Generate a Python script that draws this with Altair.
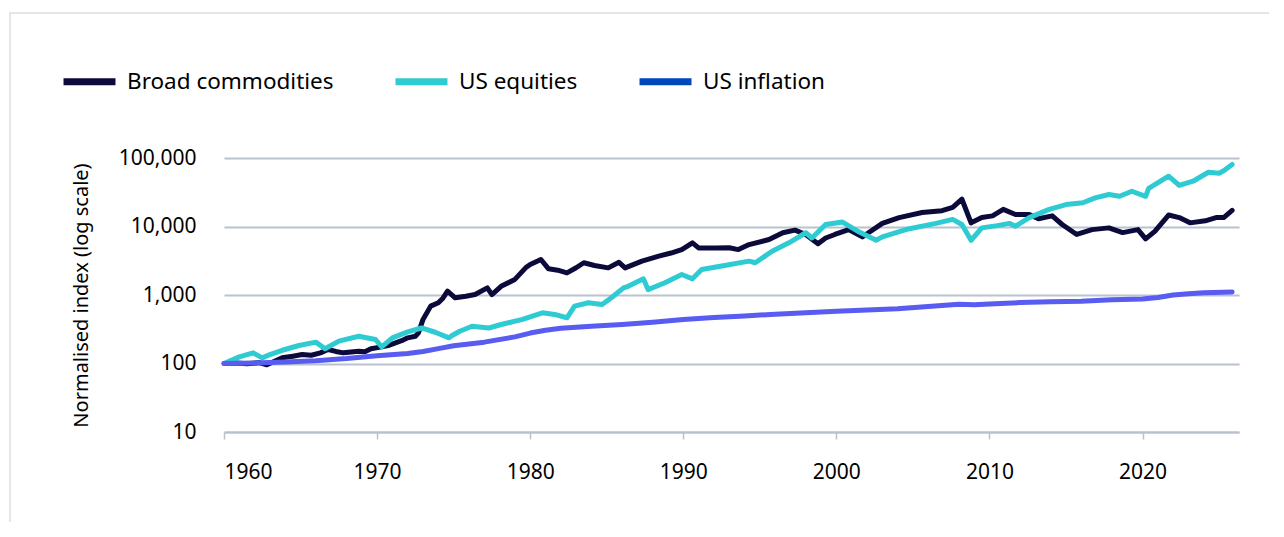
import altair as alt
import pandas as pd

series_names = ["Broad commodities", "US equities", "US inflation"]
line_colors = ["#0b0a3a", "#2ecbd2", "#585cf0"]
legend_colors = ["#0b0a3a", "#2ecbd2", "#0047bb"]

comm_years = [1960.0, 1960.8, 1961.5, 1962.3, 1962.8, 1963.3, 1963.8, 1964.5, 1965.1, 1965.7,
              1966.3, 1966.8, 1967.3, 1967.8, 1968.3, 1968.8, 1969.2, 1969.6, 1970.3, 1970.8,
              1971.2, 1971.6, 1972.0, 1972.5, 1972.7, 1973.0, 1973.5, 1974.0, 1974.3, 1974.6,
              1975.1, 1975.8, 1976.4, 1977.2, 1977.5, 1978.1, 1979.0, 1979.7, 1980.0, 1980.7,
              1981.2, 1981.8, 1982.4, 1983.0, 1983.5, 1984.2, 1985.1, 1985.8, 1986.2, 1987.3,
              1988.4, 1989.2, 1989.9, 1990.6, 1991.0, 1992.1, 1993.0, 1993.6, 1994.3, 1995.6,
              1996.5, 1997.3, 1998.0, 1998.8, 1999.3, 1999.9, 2000.8, 2001.7, 2002.1, 2003.0,
              2004.1, 2005.6, 2006.9, 2007.6, 2008.2, 2008.8, 2009.5, 2010.2, 2010.9, 2011.7,
              2012.6, 2013.2, 2014.1, 2014.75, 2015.7, 2016.7, 2017.8, 2018.7, 2019.7, 2020.2,
              2020.8, 2021.7, 2022.4, 2023.1, 2024.1, 2024.8, 2025.3, 2025.85]
comm_values = [100, 102, 99, 103, 96, 108, 121, 128, 135, 132,
               143, 160, 150, 143, 147, 151, 148, 164, 175, 185,
               200, 215, 237, 250, 280, 440, 688, 770, 900, 1137,
               910, 960, 1015, 1270, 1015, 1340, 1690, 2490, 2790, 3300,
               2410, 2300, 2100, 2500, 2955, 2700, 2490, 3000, 2490, 3120,
               3690, 4100, 4600, 5770, 4870, 4870, 4900, 4600, 5450, 6450,
               8100, 8850, 7650, 5600, 6800, 7650, 9000, 7050, 8100, 11100,
               13500, 16000, 17000, 19000, 25000, 11300, 13500, 14300, 17800, 15000,
               15000, 13000, 14300, 10700, 7650, 9000, 9550, 8150, 9000, 6600,
               8500, 14700, 13500, 11300, 12100, 13500, 13500, 17200]

eq_years = [1960.0, 1961.0, 1961.9, 1962.5, 1963.0, 1963.8, 1964.9, 1966.0, 1966.6, 1967.5,
            1968.8, 1969.9, 1970.3, 1971.0, 1972.0, 1972.9, 1973.8, 1974.7, 1974.9, 1975.4,
            1976.2, 1977.3, 1978.1, 1979.5, 1980.8, 1981.6, 1982.4, 1982.9, 1983.8, 1984.7,
            1985.3, 1986.1, 1986.4, 1987.4, 1987.7, 1988.8, 1989.9, 1990.6, 1991.2, 1992.7,
            1994.3, 1994.7, 1995.8, 1996.9, 1998.0, 1998.4, 1999.3, 2000.4, 2001.5, 2002.6,
            2003.0, 2004.7, 2006.5, 2007.6, 2008.2, 2008.8, 2009.5, 2010.5, 2011.3, 2011.7,
            2012.6, 2013.9, 2015.0, 2016.1, 2016.9, 2017.8, 2018.5, 2019.3, 2020.2, 2020.4,
            2021.7, 2022.4, 2023.3, 2024.3, 2025.0, 2025.3, 2025.85]
eq_values = [100, 125, 143, 121, 135, 156, 183, 205, 164, 212,
             250, 224, 175, 237, 290, 330, 286, 237, 256, 296,
             350, 330, 371, 440, 550, 520, 465, 688, 770, 725,
             910, 1270, 1340, 1720, 1200, 1510, 1990, 1720, 2360, 2700,
             3120, 2955, 4350, 5770, 8100, 6800, 10700, 11600, 8300, 6300,
             7050, 9200, 11100, 12700, 10700, 6300, 9550, 10300, 11100, 10100,
             13500, 17800, 20900, 22200, 26200, 29300, 27600, 32700, 27600, 36000,
             54200, 39700, 45800, 62000, 60000, 65000, 80400]

inf_years = [1960, 1962, 1964, 1966, 1968, 1970, 1972, 1973, 1974, 1975,
             1977, 1979, 1980, 1981, 1982, 1984, 1986, 1988, 1990, 1992,
             1994, 1996, 1998, 2000, 2002, 2004, 2006, 2008, 2009, 2010,
             2012, 2014, 2016, 2018, 2020, 2021, 2022, 2023, 2024, 2025.85]
inf_values = [100, 102, 105, 110, 118, 130, 140, 150, 165, 182,
              205, 245, 278, 305, 326, 350, 370, 400, 440, 470,
              495, 525, 550, 580, 605, 630, 680, 730, 720, 740,
              775, 800, 810, 850, 875, 920, 1000, 1040, 1075, 1110]

y_ticks = [10, 100, 1000, 10000, 100000]
x_ticks = [1960, 1970, 1980, 1990, 2000, 2010, 2020]

rows = []
for name, ys, vs in [(series_names[0], comm_years, comm_values),
                     (series_names[1], eq_years, eq_values),
                     (series_names[2], inf_years, inf_values)]:
    for i, (yr, v) in enumerate(zip(ys, vs)):
        rows.append({"series": name, "year": yr, "value": v, "order": i})
df = pd.DataFrame(rows)

grid_col = "#b8c3cf"

x_enc = alt.X("year:Q",
              scale=alt.Scale(domain=[1960, 2026.3], nice=False, zero=False),
              axis=alt.Axis(values=x_ticks, format="d", title=None, grid=False,
                            domain=True, domainColor=grid_col, domainWidth=2,
                            ticks=True, tickColor=grid_col, tickWidth=1.5, tickSize=7,
                            labelPadding=22, labelFontSize=21, labelColor="#000000"))
y_enc = alt.Y("value:Q",
              scale=alt.Scale(type="log", domain=[10, 100000], nice=False),
              axis=alt.Axis(values=y_ticks, format=",", title="Normalised index (log scale)",
                            domain=False, ticks=False, grid=True, gridColor=grid_col,
                            gridWidth=2, labelPadding=28, labelFontSize=21,
                            labelColor="#000000", titleFontSize=20,
                            titleFontWeight="normal", titleColor="#000000",
                            titlePadding=27))

# legend layer: drawn underneath the real lines (thinner, fully covered), carries the legend
legend_layer = alt.Chart(df).mark_line(strokeWidth=3).encode(
    x=x_enc,
    y=y_enc,
    stroke=alt.Stroke("series:N", scale=alt.Scale(domain=series_names, range=legend_colors),
                      legend=alt.Legend(title=None, orient="none", legendX=-164, legendY=-106,
                                        direction="horizontal", columns=3,
                                        symbolType="stroke", symbolSize=2700,
                                        symbolStrokeWidth=7,
                                        labelFontSize=22.5,
                                        labelColor="#000000", labelOffset=8,
                                        columnPadding=47, labelLimit=400)),
    order="order:Q",
)

lines = alt.Chart(df).mark_line(strokeWidth=5, strokeCap="round", strokeJoin="round").encode(
    x=x_enc,
    y=y_enc,
    color=alt.Color("series:N", scale=alt.Scale(domain=series_names, range=line_colors),
                    legend=None),
    order="order:Q",
)

frame = alt.Chart(pd.DataFrame({"a": [0]})).mark_rect(
    filled=False, stroke="#d9dfe6", strokeWidth=1.5, clip=False
).encode(
    x=alt.value(-214), y=alt.value(-145), x2=alt.value(1080), y2=alt.value(400)
)

chart = alt.layer(frame, legend_layer, lines).properties(
    width=1015, height=274,
    autosize=alt.AutoSizeParams(type="none"),
    padding={"left": 216, "top": 150, "right": 30, "bottom": 90},
    background="white",
).configure(font="Noto Sans").configure_view(stroke=None)

chart.save("out.html", embed_options={"renderer": "svg", "actions": False})
